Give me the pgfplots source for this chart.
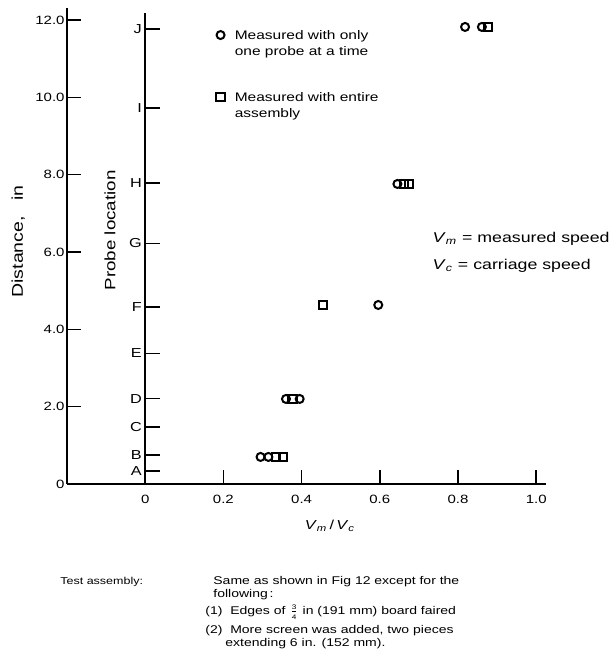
\documentclass[border=0pt]{standalone}
\usepackage{fontspec}
\setmainfont{Liberation Sans}[FakeStretch=1.25]
\usepackage{pgfplots}
\pgfplotsset{compat=1.18}

\newcommand{\fs}[1]{\fontsize{#1}{#1}\selectfont}
\newcommand{\Vm}{\textit{V}\textsubscript{\itshape m}}
\newcommand{\Vc}{\textit{V}\textsubscript{\itshape c}}

\begin{document}
\begin{tikzpicture}[x=1pt,y=1pt]
\useasboundingbox (-33.5,-91.5) rectangle (272.5,242);
\begin{axis}[
  at={(0,0)}, anchor=south west,
  scale only axis, width=239.5pt, height=237.8pt,
  xmin=-0.2, xmax=1.025, ymin=0, ymax=12.3,
  axis x line=bottom, axis y line=left,
  axis line style={-, line width=0.9pt, black},
  xtick={0,0.2,0.4,0.6,0.8,1.0},
  xticklabels={0,0.2,0.4,0.6,0.8,1.0},
  ytick={0,2,4,6,8,10,12},
  yticklabels={0,2.0,4.0,6.0,8.0,10.0,12.0},
  tick align=inside,
  major tick length=7pt,
  tick style={line width=0.8pt, black},
  ticklabel style={font=\fs{6}},
  x tick label style={yshift=-2pt},
  y tick label style={xshift=2.3pt},
  xlabel={\Vm\,/\,\Vc},
  xlabel style={at={(axis description cs:0.549,0)}, anchor=center, yshift=-21pt, font=\fs{6.5}},
  ylabel={Distance,\quad in},
  ylabel style={at={(axis description cs:-0.102,0.51)}, anchor=center, font=\fs{7.8}},
  clip=false,
  legend style={draw=none, fill=none, inner sep=0pt,
    at={(axis description cs:0.311,0.962)}, anchor=north west,
    font=\fs{6.2}, row sep=21pt, column sep=3pt, cells={anchor=base west}},
  legend image post style={yshift=2.4pt},
]
% circles: measured with only one probe at a time
\addplot[only marks, mark=o, mark size=2pt, line width=1pt, black]
  coordinates {(0.295,0.70) (0.315,0.70) (0.36,2.2) (0.395,2.2)
               (0.596,4.63) (0.645,7.76) (0.818,11.82) (0.861,11.82)};
\addlegendentry{\begin{tabular}[t]{@{}l@{}}Measured with only\\[1.3pt]one probe at a time\end{tabular}}
% squares: measured with entire assembly
\addplot[only marks, mark=square, mark size=2.1pt, line width=1pt, black]
  coordinates {(0.335,0.70) (0.352,0.70) (0.377,2.2) (0.455,4.63)
               (0.662,7.76) (0.675,7.76) (0.877,11.82)};
\addlegendentry{\begin{tabular}[t]{@{}l@{}}Measured with entire\\[1.3pt]assembly\end{tabular}}

% inner probe-location axis
\draw[line width=0.9pt] (axis cs:0,0) -- (axis cs:0,12.18);
\draw[line width=0.8pt] (axis cs:0,0.34) -- (axis cs:0.038,0.34);
\draw[line width=0.8pt] (axis cs:0,0.75) -- (axis cs:0.038,0.75);
\draw[line width=0.8pt] (axis cs:0,1.48) -- (axis cs:0.038,1.48);
\draw[line width=0.8pt] (axis cs:0,2.21) -- (axis cs:0.038,2.21);
\draw[line width=0.8pt] (axis cs:0,3.38) -- (axis cs:0.038,3.38);
\draw[line width=0.8pt] (axis cs:0,4.57) -- (axis cs:0.038,4.57);
\draw[line width=0.8pt] (axis cs:0,6.22) -- (axis cs:0.038,6.22);
\draw[line width=0.8pt] (axis cs:0,7.78) -- (axis cs:0.038,7.78);
\draw[line width=0.8pt] (axis cs:0,9.73) -- (axis cs:0.038,9.73);
\draw[line width=0.8pt] (axis cs:0,11.76) -- (axis cs:0.038,11.76);
\begin{scope}[every node/.style={anchor=east, inner sep=0pt, xshift=-1.5pt, font=\fs{6.5}}]
\node at (axis cs:0,0.34) {A};
\node at (axis cs:0,0.75) {B};
\node at (axis cs:0,1.48) {C};
\node at (axis cs:0,2.21) {D};
\node at (axis cs:0,3.38) {E};
\node at (axis cs:0,4.57) {F};
\node at (axis cs:0,6.22) {G};
\node at (axis cs:0,7.78) {H};
\node at (axis cs:0,9.73) {I};
\node at (axis cs:0,11.76) {J};
\end{scope}
\node[rotate=90, font=\fs{7.5}] at (axis cs:-0.09,6.56) {Probe location};

\node[anchor=west, inner sep=0pt, font=\fs{7.1}] at (axis cs:0.734,6.34) {\Vm\ = measured speed};
\node[anchor=west, inner sep=0pt, font=\fs{7.1}] at (axis cs:0.734,5.65) {\Vc\ = carriage speed};
\end{axis}

\begin{scope}[every node/.style={anchor=west, inner sep=0pt, font=\fs{5.6}}]
\node[font=\fs{5}] at (-3.5,-49) {Test assembly:};
\node at (73,-49) {Same as shown in Fig 12 except for the};
\node at (73,-55.5) {following\,:};
\node at (69,-64.2) {(1)\ \ Edges of $\frac{\mbox{\fs{3.3}3}}{\mbox{\fs{3.3}4}}$ in (191 mm) board faired};
\node at (69,-73.2) {(2)\ \ More screen was added, two pieces};
\node at (79,-79.7) {extending 6 in. (152 mm).};
\end{scope}
\end{tikzpicture}
\end{document}
